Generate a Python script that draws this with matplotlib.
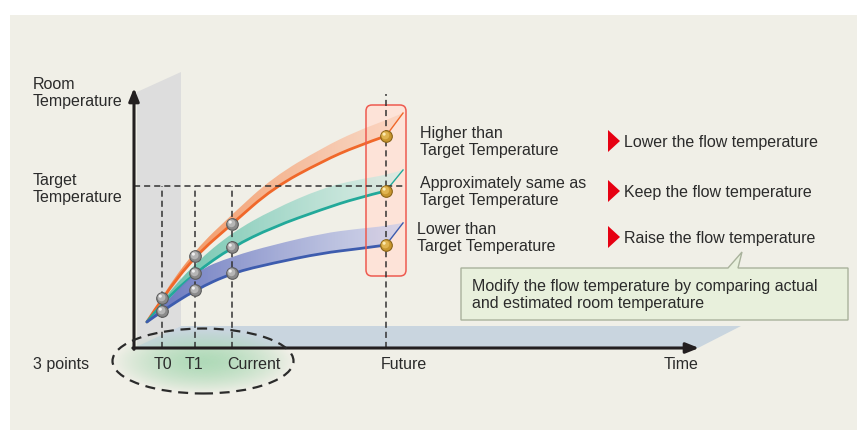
import numpy as np
import matplotlib
matplotlib.use('Agg')
import matplotlib.pyplot as plt
from matplotlib.patches import Polygon, Rectangle, FancyBboxPatch, Ellipse, PathPatch
from matplotlib.path import Path
from matplotlib.colors import LinearSegmentedColormap, to_rgba

# picture size and where the chart origin sits (pixels)
W, H = 857, 431
X0, Y0 = 134, 349
SX, SY = 38.0, 16.5   # pixels per time unit / per temperature unit

# data (time units, temperature units)
times = [0.34, 0.74, 1.61, 2.58, 3.66, 4.97, 5.87, 6.63]
orange_line = [1.58, 3.03, 5.58, 7.52, 9.70, 11.33, 12.24, 12.85]
orange_top = [1.58, 3.20, 5.95, 8.10, 10.35, 12.15, 13.15, 13.80]
teal_line = [1.58, 2.73, 4.55, 6.12, 7.33, 8.42, 9.09, 9.52]
teal_top = [1.58, 2.90, 5.15, 7.00, 8.40, 9.70, 10.20, 10.48]
blue_line = [1.58, 2.24, 3.52, 4.55, 5.15, 5.76, 6.00, 6.24]
blue_top = [1.58, 2.50, 4.65, 5.55, 6.25, 6.95, 7.22, 7.39]
tip_time = 7.08
tip_temp = [14.24, 10.79, 7.58]
target_temp = 9.82
t_marks = [0.74, 1.61, 2.58, 6.63]   # T0, T1, Current, Future

row_labels = ["Higher than\nTarget Temperature",
              "Approximately same as\nTarget Temperature",
              "Lower than\nTarget Temperature"]
actions = ["Lower the flow temperature",
           "Keep the flow temperature",
           "Raise the flow temperature"]

FONT = ['Liberation Sans', 'DejaVu Sans']
TXT = '#2b2b2b'


def px(x, y):
    return ((x - X0) / SX, (Y0 - y) / SY)


def smooth(pts):
    pts = np.asarray(pts, float)
    verts = [pts[0]]
    codes = [Path.MOVETO]
    for i in range(1, len(pts) - 1):
        nxt = pts[i + 1] if i == len(pts) - 2 else (pts[i] + pts[i + 1]) / 2
        verts += [pts[i], nxt]
        codes += [Path.CURVE3, Path.CURVE3]
    return verts, codes


fig = plt.figure(figsize=(W / 100, H / 100), dpi=100)
fig.patch.set_facecolor('white')
ax = fig.add_axes([0, 0, 1, 1])
ax.axis('off')

# beige background
bx0, by1 = px(10, H)
bx1, by0 = px(W, 16)
ax.add_patch(Rectangle((bx0, by1), bx1 - bx0, by0 - by1, fc='#f0efe7', ec='none', zorder=0))

# grey back panel and blue floor
ax.add_patch(Polygon([px(137, 349), px(137, 93), px(181, 73), px(181, 327)],
                     fc='#dddddd', ec='none', zorder=1))
ax.add_patch(Polygon([px(134, 349), px(181, 327), px(741, 327), px(698, 349)],
                     fc='#c9d5df', ec='none', zorder=1))

# green glow inside the ellipse
ecx, ecy = px(203, 362)
ew, eh = 181 / SX, 65 / SY
ell_clip = Ellipse((ecx, ecy), ew, eh, fc='none', ec='none')
ax.add_patch(ell_clip)
gx, gy = np.meshgrid(np.linspace(-1, 1, 200), np.linspace(-1, 1, 120))
r = np.clip(np.sqrt(gx ** 2 + gy ** 2), 0, 1)
glow = np.zeros((120, 200, 4))
glow[..., :3] = to_rgba('#a9d8b4')[:3]
glow[..., 3] = 0.9 * (1 - r ** 1.6)
im = ax.imshow(glow, extent=(ecx - ew / 2, ecx + ew / 2, ecy - eh / 2, ecy + eh / 2),
               aspect='auto', zorder=1.2, interpolation='bilinear')
im.set_clip_path(ell_clip)

# future box (fill under the bands)
rx0, ry1 = px(366, 277)
rx1, ry0 = px(406, 106)
box_kw = dict(boxstyle='round,pad=0,rounding_size=%.3f' % (6 / SX), mutation_aspect=SX / SY)
ax.add_patch(FancyBboxPatch((rx0, ry1), rx1 - rx0, ry0 - ry1, fc='#fde3d8', ec='none',
                            zorder=1.5, **box_kw))

# bands and curves
series = [(orange_line, orange_top, tip_temp[0], '#f0682a', '#f28a50', '#fbd2bc'),
          (teal_line, teal_top, tip_temp[1], '#22a99a', '#5fbfa6', '#d6ede6'),
          (blue_line, blue_top, tip_temp[2], '#3d5cae', '#6473bd', '#c9cdeb')]
for k, (line, top, tip, lc, c0, c1) in enumerate(series):
    up = list(zip(times, top)) + [(tip_time, tip)]
    low = list(zip(times, line))[::-1]
    vu, cu = smooth(up)
    vl, cl = smooth(low)
    cl[0] = Path.LINETO
    band = PathPatch(Path(vu + vl + [vu[0]], cu + cl + [Path.CLOSEPOLY]),
                     fc='none', ec='none')
    ax.add_patch(band)
    cmap = LinearSegmentedColormap.from_list('b%d' % k, [to_rgba(c0, 1.0), to_rgba(c1, 0.7)])
    g = ax.imshow(np.linspace(0, 1, 256).reshape(1, -1), cmap=cmap, aspect='auto',
                  extent=(times[0], tip_time, min(line), tip + 0.5), zorder=3 + k * 0.1)
    g.set_clip_path(band)
    vv, cc = smooth(list(zip(times, line)))
    ax.add_patch(PathPatch(Path(vv, cc), fc='none', ec=lc, lw=2.0, zorder=3.05 + k * 0.1,
                           capstyle='round'))
    ax.plot([times[-1], tip_time], [line[-1], tip], color=lc, lw=1.0, zorder=3.05 + k * 0.1)

# box outline
ax.add_patch(FancyBboxPatch((rx0, ry1), rx1 - rx0, ry0 - ry1, fc='none', ec='#ee5a50',
                            lw=1.1, zorder=3.6, **box_kw))

# dashed guide lines
dash = dict(color='#333333', lw=1.1, dashes=(4.0, 2.6), zorder=4)
ax.plot([0, px(405, 0)[0]], [target_temp, target_temp], **dash)
for t in t_marks[:3]:
    ax.plot([t, t], [0, target_temp], **dash)
ax.plot([t_marks[3], t_marks[3]], [0, px(0, 95)[1]], **dash)

# axes with arrows
arr = dict(arrowstyle='-|>,head_length=0.55,head_width=0.22', color='#231f20', lw=2.2,
           shrinkA=0, shrinkB=0, mutation_scale=14)
ax.annotate('', xy=px(134, 89), xytext=(0, -0.08), arrowprops=arr, zorder=5)
ax.annotate('', xy=px(699, 349), xytext=(-0.03, 0), arrowprops=arr, zorder=5)

# dashed ellipse
ax.add_patch(Ellipse((ecx, ecy), ew, eh, fc='none', ec='#2b2b2b', lw=1.6,
                     ls=(0, (4.5, 3.0)), zorder=5.5))

# balls
def balls(xs, ys, fc, ec, mid, hi):
    xs = np.asarray(xs)
    ys = np.asarray(ys)
    ax.scatter(xs, ys, s=70, c=fc, edgecolors=ec, linewidths=0.8, zorder=6)
    ax.scatter(xs - 0.6 / SX, ys + 0.6 / SY, s=32, c=mid, edgecolors='none', zorder=6.1)
    ax.scatter(xs - 1.8 / SX, ys + 1.8 / SY, s=5, c=hi, edgecolors='none', zorder=6.2)


gx_, gy_ = [], []
for i in (1, 2, 3):
    for j, line in enumerate((orange_line, teal_line, blue_line)):
        if i == 1 and j == 1:
            continue
        gx_.append(times[i])
        gy_.append(line[i])
balls(gx_, gy_, '#8a8a8a', '#5c5c5c', '#b5b5b5', '#f0f0f0')
balls([times[-1]] * 3, [orange_line[-1], teal_line[-1], blue_line[-1]],
      '#c8962e', '#8a6418', '#e0b450', '#fbeab0')

# texts
tk = dict(fontfamily=FONT, color=TXT, fontsize=11.5, linespacing=1.17)
ax.text(*px(33, 93), "Room\nTemperature", ha='left', va='center', **tk)
ax.text(*px(33, 189), "Target\nTemperature", ha='left', va='center', **tk)
ax.text(*px(33, 365), "3 points", ha='left', va='center', **tk)
ax.text(*px(163, 365), "T0", ha='center', va='center', **tk)
ax.text(*px(194, 365), "T1", ha='center', va='center', **tk)
ax.text(*px(227, 365), "Current", ha='left', va='center', **tk)
ax.text(*px(381, 365), "Future", ha='left', va='center', **tk)
ax.text(*px(664, 365), "Time", ha='left', va='center', **tk)

row_y = [142, 192, 238]
row_x = [420, 420, 417]
for lab, act, y, x in zip(row_labels, actions, row_y, row_x):
    ax.text(*px(x, y), lab, ha='left', va='center', **tk)
    ax.add_patch(Polygon([px(608, y - 11), px(620, y), px(608, y + 11)],
                         fc='#e60012', ec='none', zorder=6))
    ax.text(*px(624, y + 1), act, ha='left', va='center', **tk)

# callout
call = [px(461, 269), px(728, 269), px(742, 253), px(738, 269), px(848, 269),
        px(848, 321), px(461, 321)]
ax.add_patch(Polygon(call, closed=True, fc='#e8f0dc', ec='#a9b29c', lw=1.0, zorder=6))
ax.text(*px(472, 295), "Modify the flow temperature by comparing actual\nand estimated room temperature",
        ha='left', va='center', zorder=7, **tk)

ax.set_xlim(px(0, 0)[0], px(W, 0)[0])
ax.set_ylim(px(0, H)[1], px(0, 0)[1])
fig.savefig('out.png', dpi=100, facecolor=fig.get_facecolor())
